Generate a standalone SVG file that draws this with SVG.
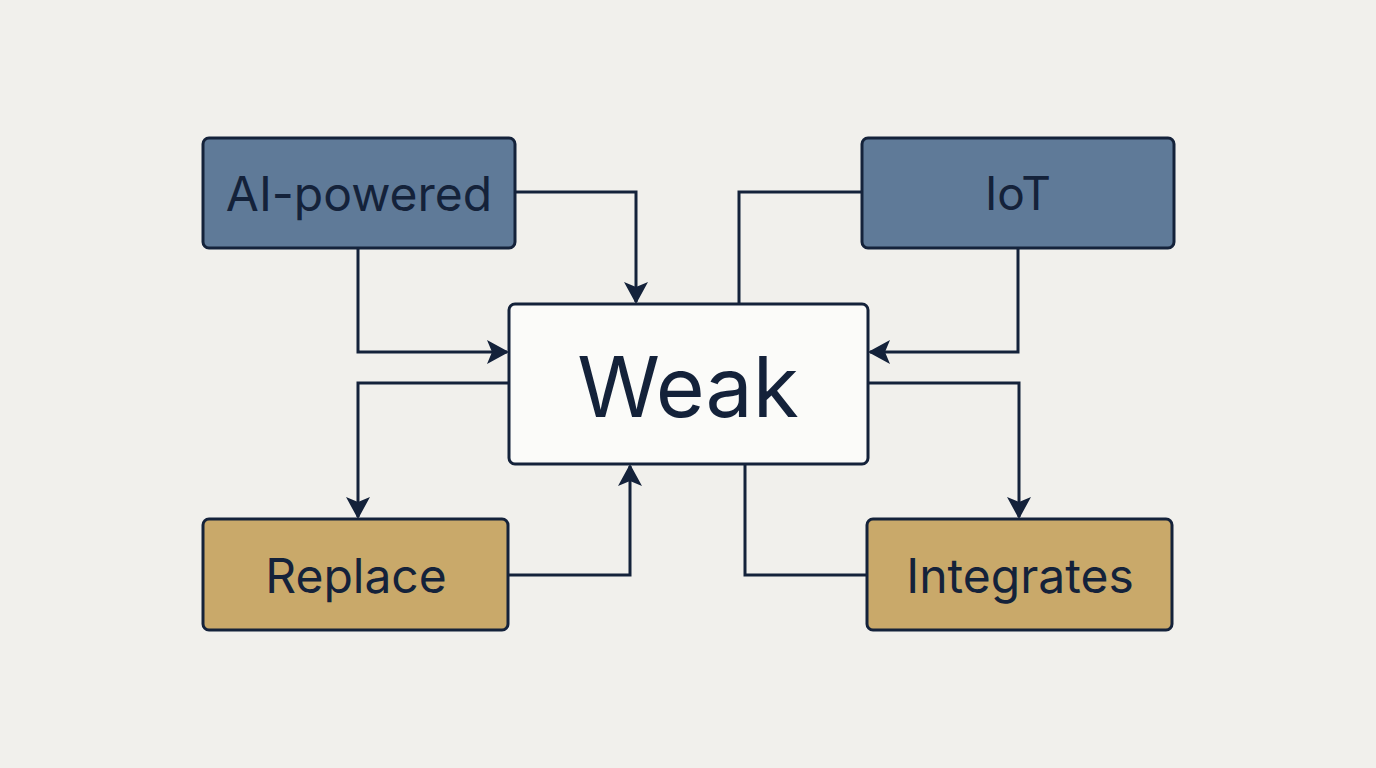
<svg xmlns="http://www.w3.org/2000/svg" width="1376" height="768" viewBox="0 0 1376 768">
<defs>
<marker id="ah" markerWidth="22" markerHeight="24" refX="20" refY="12" orient="auto" markerUnits="userSpaceOnUse"><path d="M0,0 L22,12 L0,24 L5,12 Z" fill="#14223a"/></marker>
<style>
.n{stroke:#14223a;stroke-width:3}
.b{fill:#5f7a98}.y{fill:#c9a96a}.w{fill:#fbfbf9}
.t{font-family:Inter,"Noto Sans",sans-serif;fill:#14223a;text-anchor:middle;dominant-baseline:central}
.c{fill:none;stroke:#14223a;stroke-width:3}
</style>
</defs>
<rect width="1376" height="768" fill="#f1f0ec"/>
<g id="connectors">
<path class="c" d="M515,192 H636 V302" marker-end="url(#ah)"/>
<path class="c" d="M358,248 V352 H507" marker-end="url(#ah)"/>
<path class="c" d="M509,383 H358 V517" marker-end="url(#ah)"/>
<path class="c" d="M508,575 H630 V466" marker-end="url(#ah)"/>
<path class="c" d="M862,192 H739 V304"/>
<path class="c" d="M1018,248 V352 H870" marker-end="url(#ah)"/>
<path class="c" d="M868,383 H1019 V517" marker-end="url(#ah)"/>
<path class="c" d="M745,464 V575 H867"/>
</g>
<g id="ai"><rect class="n b" x="203" y="138" width="312" height="110" rx="6"/><text class="t" x="359" y="193" font-size="48">AI-powered</text></g>
<g id="iot"><rect class="n b" x="862" y="138" width="312" height="110" rx="6"/><text class="t" x="1018" y="193" font-size="46">IoT</text></g>
<g id="weak"><rect class="n w" x="509" y="304" width="359" height="160" rx="6"/><text class="t" x="688" y="386" font-size="84">Weak</text></g>
<g id="replace"><rect class="n y" x="203" y="519" width="305" height="111" rx="6"/><text class="t" x="356" y="575" font-size="48">Replace</text></g>
<g id="integrates"><rect class="n y" x="867" y="519" width="305" height="111" rx="6"/><text class="t" x="1020" y="575" font-size="48">Integrates</text></g>
</svg>
